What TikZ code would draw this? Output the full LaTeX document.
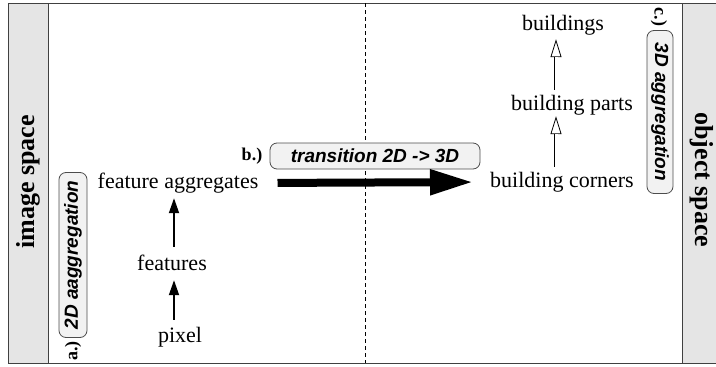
\documentclass[tikz,border=0pt]{standalone}
\usepackage{fontspec}
\setmainfont{Liberation Serif}
\newfontfamily\boxfont{Liberation Sans}
\usetikzlibrary{arrows.meta,calc}
\definecolor{bandgray}{HTML}{E5E5E5}
\definecolor{boxgray}{HTML}{F2F2F2}
\definecolor{framec}{HTML}{404040}
\begin{document}
\begin{tikzpicture}[x=1pt,y=-1pt,
 lbl/.style={font=\fontsize{22}{24}\selectfont, inner sep=0pt, text height=15pt, text depth=5pt},
 spacelbl/.style={font=\fontsize{26}{30}\selectfont\bfseries, inner sep=0pt},
 stage/.style={draw=black!70, fill=boxgray, rounded corners=7pt, font=\boxfont\fontsize{19}{22}\selectfont\bfseries\itshape, inner sep=0pt, line width=0.8pt},
 tag/.style={font=\fontsize{18}{20}\selectfont\bfseries, inner sep=0pt},
 uparrow/.style={-{Triangle[length=15pt,width=10pt]}, line width=1.8pt},
 hollowhead/.style={-{Triangle[open,length=18pt,width=11pt]}, line width=0.8pt},
 hollowshaft/.style={double, double distance=3pt, line width=0.8pt},
 bigarrow/.style={-{Triangle[length=43pt,width=24pt]}, line width=8pt}
]
\useasboundingbox (0,0) rectangle (716,367);
% frame and bands
\draw[framec, line width=1pt] (8,3) rectangle (722,363);
\filldraw[fill=bandgray, draw=framec, line width=1pt] (8,3) rectangle (48,363);
\filldraw[fill=bandgray, draw=framec, line width=1pt] (682,3) rectangle (722,363);
\coordinate (dtop) at (365,3);
\coordinate (dbot) at (365,363);
\draw[dashed, dash pattern=on 4pt off 3pt, line width=0.6pt] (dtop) -- (dbot);

% side labels
\node[spacelbl, rotate=90] (imgsp) at (28,182) {image space};
\node[spacelbl, rotate=-90] (objsp) at (702,180) {object space};

% stage boxes
\node[stage, rotate=90, minimum width=165pt, minimum height=28pt] (s2d) at (73,255) {2D aaggregation};
\node[tag, rotate=90] (ta) at (73,351) {a.)};
\node[stage, minimum width=210pt, minimum height=26pt] (str) at (375,156) {transition 2D -> 3D};
\node[tag] (tb) at (252,156) {b.)};
\node[stage, rotate=-90, minimum width=163pt, minimum height=26pt] (s3d) at (660,112) {3D aggregation};
\node[tag, rotate=-90] (tc) at (659,17) {c.)};

% text nodes
\node[lbl] (fa) at (178,183) {feature aggregates};
\node[lbl] (feat) at (172,265) {features};
\node[lbl] (pix) at (180,337) {pixel};
\node[lbl] (bc) at (562,182) {building corners};
\node[lbl] (bp) at (572,105) {building parts};
\node[lbl] (bld) at (563,25) {buildings};

\coordinate (lx) at (174,0);
\coordinate (rx) at (556,0);

% left arrows
\draw[uparrow, shorten <=7pt, shorten >=5pt] (pix.north -| lx) -- (feat.south -| lx);
\draw[uparrow, shorten <=8pt, shorten >=5pt] (feat.north -| lx) -- (fa.south -| lx);

% transition arrow
\draw[bigarrow, shorten <=19pt, shorten >=17pt] (fa.east) -- (bc.west);

% right hollow arrows
\draw[hollowhead, shorten <=5pt, shorten >=1pt] (bc.north -| rx) -- (bp.south -| rx);
\draw[hollowshaft, shorten <=5pt, shorten >=18.5pt] (bc.north -| rx) -- (bp.south -| rx);
\draw[hollowhead, shorten <=5pt, shorten >=4pt] (bp.north -| rx) -- (bld.south -| rx);
\draw[hollowshaft, shorten <=5pt, shorten >=21.5pt] (bp.north -| rx) -- (bld.south -| rx);
\end{tikzpicture}
\end{document}
